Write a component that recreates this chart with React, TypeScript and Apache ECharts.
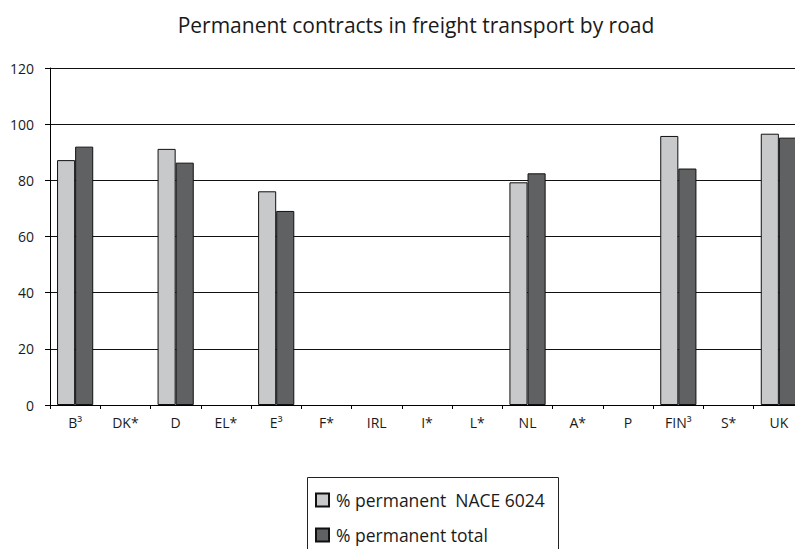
import React, { useEffect, useRef } from "react";
import * as echarts from "echarts";

const categories = ["B³", "DK*", "D", "EL*", "E³", "F*", "IRL", "I*", "L*", "NL", "A*", "P", "FIN³", "S*", "UK"];
const naceValues = [87.2, null, 91.2, null, 76.1, null, null, null, null, 79.3, null, null, 95.8, null, 96.6];
const totalValues = [92.0, null, 86.3, null, 69.1, null, null, null, null, 82.5, null, null, 84.2, null, 95.2];
const seriesNames = ["% permanent  NACE 6024", "% permanent total"];

export default function App() {
  const ref = useRef<HTMLDivElement>(null);
  useEffect(() => {
    if (!ref.current) return;
    const chart = echarts.init(ref.current, null, { renderer: "svg" });
    const font = "Open Sans";
    chart.setOption({
      animation: false,
      backgroundColor: "#ffffff",
      title: {
        text: "Permanent contracts in freight transport by road",
        left: 411,
        top: 9,
        textAlign: "center",
        textStyle: { fontFamily: font, fontSize: 21, fontWeight: "normal", color: "#1a1a1a" },
      },
      graphic: [
        {
          type: "rect",
          shape: { x: 307.5, y: 477.5, width: 251, height: 90 },
          style: { fill: "none", stroke: "#222", lineWidth: 1 },
          silent: true,
        },
      ],
      legend: {
        orient: "vertical",
        left: 315,
        top: 491,
        itemWidth: 13,
        itemHeight: 13,
        itemGap: 17,
        padding: 0,
        icon: "rect",
        textStyle: { fontFamily: font, fontSize: 17.5, lineHeight: 18, color: "#1a1a1a", padding: [0, 0, 0, 2] },
        data: seriesNames,
      },
      grid: { left: 50, width: 754, top: 68, bottom: 144, outerBoundsMode: "none", containLabel: false },
      xAxis: {
        type: "category",
        data: categories,
        boundaryGap: true,
        axisLine: { lineStyle: { color: "#000", width: 1 } },
        axisTick: { show: true, length: 4, lineStyle: { color: "#000" } },
        axisLabel: { fontFamily: font, fontSize: 14, color: "#1a1a1a", margin: 10 },
      },
      yAxis: {
        type: "value",
        min: 0,
        max: 120,
        interval: 20,
        axisLine: { show: true, lineStyle: { color: "#000", width: 1 } },
        axisTick: { show: true, length: 5, lineStyle: { color: "#000" } },
        axisLabel: { fontFamily: font, fontSize: 14, color: "#1a1a1a", margin: 16 },
        splitLine: { show: true, lineStyle: { color: "#111", width: 1 } },
      },
      series: [
        {
          name: seriesNames[0],
          type: "bar",
          data: naceValues,
          barGap: "0%",
          barCategoryGap: "28%",
          itemStyle: { color: "#c8c9cb", borderColor: "#111", borderWidth: 1 },
        },
        {
          name: seriesNames[1],
          type: "bar",
          data: totalValues,
          itemStyle: { color: "#606163", borderColor: "#111", borderWidth: 1 },
        },
      ],
    });
    return () => chart.dispose();
  }, []);
  return <div ref={ref} style={{ width: 795, height: 549, position: "absolute", left: 0, top: 0 }} />;
}
